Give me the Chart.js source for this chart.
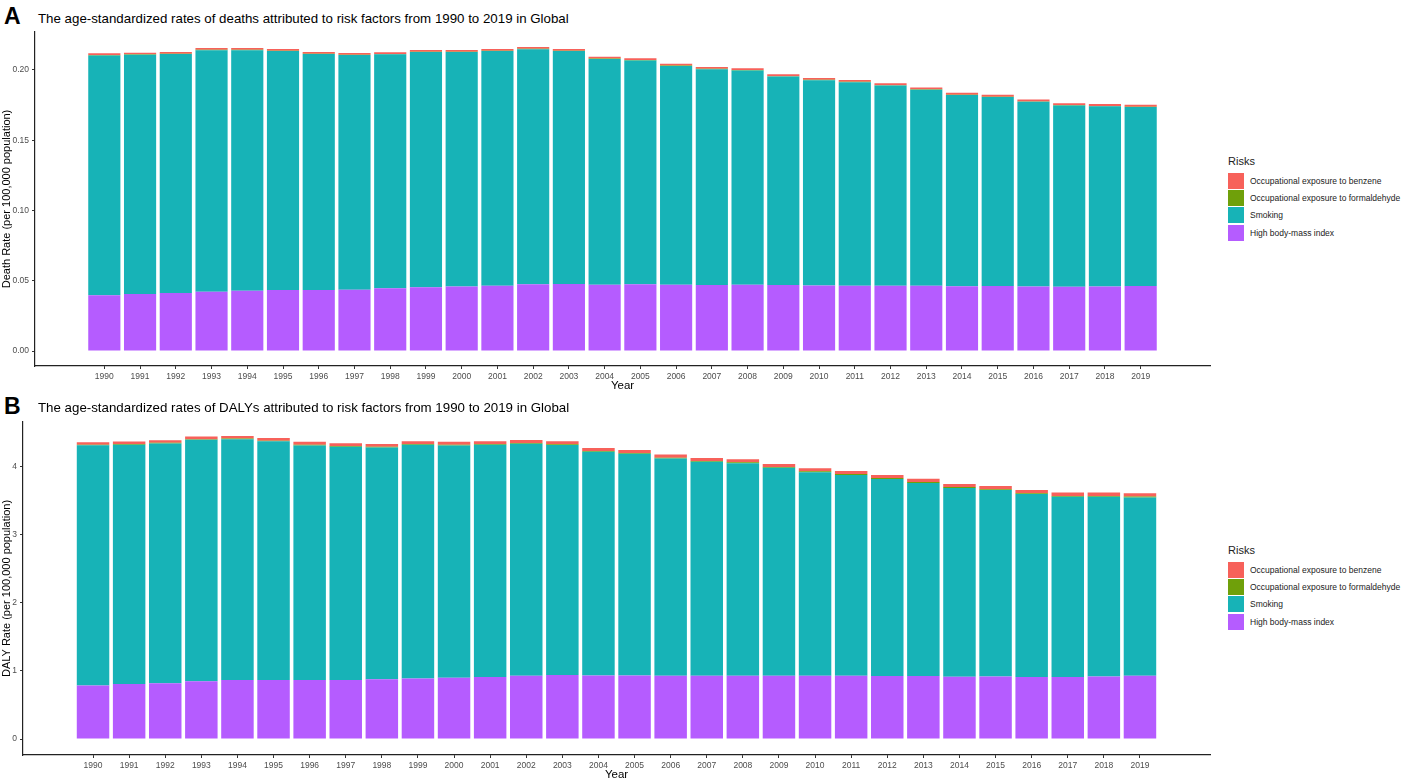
<!DOCTYPE html>
<html>
<head>
<meta charset="utf-8">
<script src="https://cdn.jsdelivr.net/npm/chart.js@4.4.1/dist/chart.umd.min.js"></script>
<style>
  body { margin: 0; width: 1403px; height: 780px; background: #fff; position: relative; overflow: hidden;
         font-family: "Liberation Sans", Arial, sans-serif; }
  .panel-label { position: absolute; left: 4px; font-weight: bold; font-size: 23px; line-height: 23px; color: #000; }
  .panel-title { position: absolute; left: 38px; font-size: 13.3px; line-height: 15px; color: #000; white-space: nowrap; }
  .chart-box { position: absolute; left: 0; width: 1220px; }
  .legend { position: absolute; left: 1228px; color: #222; }
  .legend .head { font-size: 11px; line-height: 13px; margin-bottom: 4px; }
  .legend .row { display: flex; align-items: center; height: 17.3px; font-size: 8.5px; }
  .legend .key { width: 16px; height: 16px; margin-right: 6px; }
</style>
</head>
<body>
<div class="panel-label" style="top:5px">A</div>
<div class="panel-title" style="top:11px">The age-standardized rates of deaths attributed to risk factors from 1990 to 2019 in Global</div>
<div class="chart-box" style="top:0; height:393px"><canvas id="deathChart"></canvas></div>
<div class="legend" id="legendA" style="top:155px"></div>

<div class="panel-label" style="top:395px">B</div>
<div class="panel-title" style="top:400px">The age-standardized rates of DALYs attributed to risk factors from 1990 to 2019 in Global</div>
<div class="chart-box" style="top:390px; height:392px"><canvas id="dalyChart"></canvas></div>
<div class="legend" id="legendB" style="top:544px"></div>

<script>
const years = [1990, 1991, 1992, 1993, 1994, 1995, 1996, 1997, 1998, 1999,
               2000, 2001, 2002, 2003, 2004, 2005, 2006, 2007, 2008, 2009,
               2010, 2011, 2012, 2013, 2014, 2015, 2016, 2017, 2018, 2019];

// Death rates (panel A)
const deathBmi = [0.0397, 0.0407, 0.0414, 0.0423, 0.0430, 0.0435, 0.0435, 0.0437, 0.0447, 0.0455,
                  0.0460, 0.0465, 0.0475, 0.0478, 0.0472, 0.0475, 0.0472, 0.0470, 0.0472, 0.0470,
                  0.0467, 0.0465, 0.0465, 0.0465, 0.0462, 0.0463, 0.0460, 0.0458, 0.0460, 0.0463];
const deathSmoking = [0.1706, 0.1701, 0.1699, 0.1718, 0.1711, 0.1699, 0.1678, 0.1669, 0.1664, 0.1672,
                      0.1667, 0.1669, 0.1673, 0.1656, 0.1606, 0.1592, 0.1557, 0.1535, 0.1524, 0.1483,
                      0.1460, 0.1448, 0.1424, 0.1394, 0.1359, 0.1344, 0.1313, 0.1289, 0.1281, 0.1273];
const deathFormaldehyde = [0.0003, 0.0003, 0.0003, 0.0003, 0.0003, 0.0003, 0.0003, 0.0003, 0.0003, 0.0003,
                           0.0003, 0.0003, 0.0003, 0.0003, 0.0003, 0.0003, 0.0003, 0.0003, 0.0003, 0.0003,
                           0.0003, 0.0003, 0.0003, 0.0003, 0.0003, 0.0003, 0.0003, 0.0003, 0.0003, 0.0003];
const deathBenzene = [0.0012, 0.0012, 0.0012, 0.0012, 0.0012, 0.0012, 0.0012, 0.0012, 0.0012, 0.0012,
                      0.0012, 0.0012, 0.0012, 0.0012, 0.0013, 0.0013, 0.0013, 0.0013, 0.0013, 0.0013,
                      0.0013, 0.0013, 0.0013, 0.0013, 0.0013, 0.0013, 0.0013, 0.0013, 0.0013, 0.0013];
const deathTicks = [0, 0.05, 0.10, 0.15, 0.20];

// DALY rates (panel B)
const dalyBmi = [0.785, 0.809, 0.819, 0.848, 0.868, 0.868, 0.868, 0.868, 0.877, 0.890,
                 0.900, 0.910, 0.930, 0.940, 0.935, 0.935, 0.930, 0.930, 0.930, 0.930,
                 0.930, 0.930, 0.925, 0.925, 0.915, 0.920, 0.910, 0.910, 0.920, 0.930];
const dalySmoking = [3.532, 3.516, 3.525, 3.550, 3.539, 3.508, 3.448, 3.427, 3.408, 3.435,
                     3.414, 3.414, 3.412, 3.383, 3.288, 3.258, 3.194, 3.145, 3.125, 3.056,
                     2.993, 2.952, 2.897, 2.839, 2.775, 2.740, 2.691, 2.651, 2.641, 2.622];
const dalyFormaldehyde = [0.010, 0.010, 0.010, 0.010, 0.010, 0.010, 0.011, 0.011, 0.011, 0.011,
                          0.011, 0.011, 0.011, 0.011, 0.012, 0.012, 0.012, 0.012, 0.012, 0.012,
                          0.012, 0.012, 0.013, 0.013, 0.013, 0.013, 0.013, 0.013, 0.013, 0.013];
const dalyBenzene = [0.036, 0.037, 0.038, 0.038, 0.039, 0.040, 0.041, 0.042, 0.042, 0.042,
                     0.043, 0.043, 0.044, 0.044, 0.044, 0.045, 0.045, 0.045, 0.046, 0.046,
                     0.046, 0.047, 0.047, 0.047, 0.047, 0.048, 0.048, 0.048, 0.048, 0.048];
const dalyTicks = [0, 1, 2, 3, 4];

const riskNames = ['High body-mass index', 'Smoking',
                   'Occupational exposure to formaldehyde', 'Occupational exposure to benzene'];
const riskColors = ['#b55cff', '#17b3b7', '#6fa00a', '#f7615a'];

function toPoints(values) {
    return values.map((v, i) => ({ x: years[i], y: v }));
}

function buildLegend(id) {
    const box = document.getElementById(id);
    box.innerHTML = '<div class="head">Risks</div>';
    // legend lists the top of the stack first
    for (let i = riskNames.length - 1; i >= 0; i--) {
        const row = document.createElement('div');
        row.className = 'row';
        row.innerHTML = `<span class="key" style="background:${riskColors[i]}"></span>${riskNames[i]}`;
        box.appendChild(row);
    }
}

function renderStack(canvasId, series, ticks, yMin, yMax, yTitle, yWidth, xHeight, fmt) {
    const ctx = document.getElementById(canvasId).getContext('2d');
    new Chart(ctx, {
        type: 'bar',
        data: {
            datasets: series.map((vals, i) => ({
                label: riskNames[i],
                data: toPoints(vals),
                backgroundColor: riskColors[i],
                borderWidth: 0,
                barPercentage: 0.9,
                categoryPercentage: 1.0
            }))
        },
        options: {
            responsive: true,
            maintainAspectRatio: false,
            animation: false,
            layout: { padding: { top: 32, right: 10, left: 0, bottom: 0 } },
            plugins: { legend: { display: false }, tooltip: { enabled: false } },
            scales: {
                x: {
                    type: 'linear',
                    stacked: true,
                    offset: false,
                    min: years[0] - 1.94,
                    max: years[years.length - 1] + 1.94,
                    afterBuildTicks: scale => { scale.ticks = years.map(v => ({ value: v })); },
                    afterFit: scale => { scale.height = xHeight; },
                    grid: { drawOnChartArea: false, offset: false, tickLength: 3, color: '#333' },
                    border: { display: true, color: '#222', width: 1.2 },
                    ticks: { callback: v => String(v), color: '#4d4d4d', font: { size: 8.5 }, padding: 3, maxRotation: 0, autoSkip: false },
                    title: { display: true, text: 'Year', color: '#000', font: { size: 11.5 }, padding: { top: 0, bottom: 0 } }
                },
                y: {
                    stacked: true,
                    min: yMin,
                    max: yMax,
                    afterBuildTicks: scale => { scale.ticks = ticks.map(v => ({ value: v })); },
                    afterFit: scale => { scale.width = yWidth; },
                    grid: { drawOnChartArea: false, tickLength: 3, color: '#333' },
                    border: { display: true, color: '#222', width: 1.2 },
                    ticks: { callback: fmt, color: '#4d4d4d', font: { size: 8.5 }, padding: 3 },
                    title: { display: true, text: yTitle, color: '#000', font: { size: 11 }, padding: { top: 0, bottom: 0 } }
                }
            }
        }
    });
}

renderStack('deathChart', [deathBmi, deathSmoking, deathFormaldehyde, deathBenzene],
            deathTicks, -0.0106, 0.227, 'Death Rate (per 100,000 population)', 35, 27, v => v.toFixed(2));
renderStack('dalyChart', [dalyBmi, dalySmoking, dalyFormaldehyde, dalyBenzene],
            dalyTicks, -0.235, 4.66, 'DALY Rate (per 100,000 population)', 23, 27, v => String(v));

buildLegend('legendA');
buildLegend('legendB');
</script>
</body>
</html>
